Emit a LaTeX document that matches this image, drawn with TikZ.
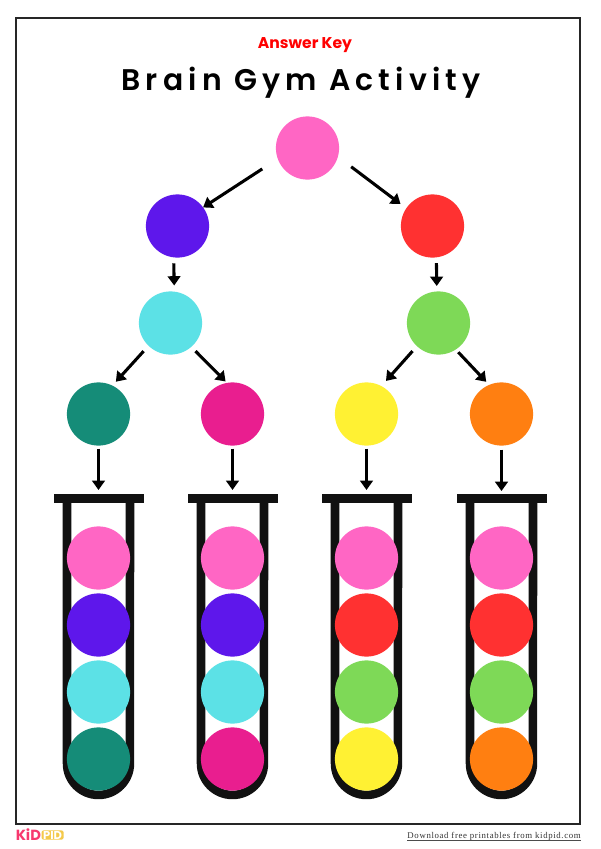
\documentclass[tikz,border=0pt]{standalone}
\usepackage{fontspec}
\usetikzlibrary{arrows.meta}
\setmainfont{Poppins}
\newfontfamily\titlefont[LetterSpace=17.4]{Poppins SemiBold}
\newfontfamily\footfont[LetterSpace=7.3]{Liberation Serif}
\definecolor{ballpink}{HTML}{FF66C4}
\definecolor{ballpurple}{HTML}{5E17EB}
\definecolor{ballred}{HTML}{FF3131}
\definecolor{ballcyan}{HTML}{5CE1E6}
\definecolor{ballgreen}{HTML}{7ED957}
\definecolor{ballteal}{HTML}{158C78}
\definecolor{ballmagenta}{HTML}{E91E8F}
\definecolor{ballyellow}{HTML}{FFF133}
\definecolor{ballorange}{HTML}{FF7F11}
\definecolor{tubeblack}{HTML}{111111}
\definecolor{logopink}{HTML}{F7386E}
\definecolor{logoyellow}{HTML}{F4C94A}
\tikzset{ball/.style={circle, inner sep=0pt, outer sep=0pt, minimum size=47.4pt}}
\tikzset{rim/.style={rectangle, fill=tubeblack, inner sep=0pt, outer sep=0pt, minimum width=67.5pt, minimum height=6.8pt}}
\tikzset{wall/.style={draw=tubeblack, line width=6.4pt}}
\tikzset{link/.style={draw=black, line width=2.3pt, -{Triangle[length=7pt,width=9.5pt]}}}

\begin{document}
\begin{tikzpicture}[x=.75pt,y=-.75pt]
  \useasboundingbox (0,0) rectangle (600,849);
  \fill[white] (0,0) rectangle (600,849);
  \draw[draw=black!85, line width=1.1pt] (16,18) rectangle (580,824);
  % titles
  \node[text=red, font=\fontsize{11.7}{14}\selectfont\bfseries] (answer) at (305,45.5) {Answer Key};
  \node[font=\titlefont\fontsize{22.4}{26}\selectfont] (title) at (301,82.5) {Brain Gym Activity};
  % tree
  \foreach \x/\y/\lab/\col in {
    307.5/148/root/ballpink,
    177.5/226/purple/ballpurple,
    432.5/226/red/ballred,
    170.5/323/cyan/ballcyan,
    438.5/323/green/ballgreen,
    98.5/414/teal/ballteal,
    232.5/414/magenta/ballmagenta,
    366.5/414/yellow/ballyellow,
    501.5/414/orange/ballorange%
  } {
    \node[ball, fill=\col] (\lab) at (\x, \y) {};
  }
  % tubes
  \foreach \x/\lab/\a/\b/\c/\d in {
    98.5/one/ballpink/ballpurple/ballcyan/ballteal,
    232.5/two/ballpink/ballpurple/ballcyan/ballmagenta,
    366.5/three/ballpink/ballred/ballgreen/ballyellow,
    501.5/four/ballpink/ballred/ballgreen/ballorange%
  } {
    \draw[wall] (\x-31.5, 498) -- (\x-31.5, 763.5) arc[start angle=180, end angle=360, radius=23.6pt] -- (\x+31.5, 498);
    \node[rim] (rim\lab) at (\x, 498.5) {};
    \node[ball, fill=\a] (\lab a) at (\x, 558) {};
    \node[ball, fill=\b] (\lab b) at (\x, 625) {};
    \node[ball, fill=\c] (\lab c) at (\x, 692) {};
    \node[ball, fill=\d] (\lab d) at (\x, 759) {};
  }
  % arrows
  \foreach \u/\v/\s/\e in {
    root.200/purple.36/13.9pt/0pt,
    root.-16/red.146/12.5pt/5.4pt,
    purple.263/cyan.83/4.5pt/4.6pt,
    red.277/green.93/4.3pt/4.1pt,
    cyan.226/teal.64/5.5pt/3.9pt,
    cyan.-49/magenta.100/4.5pt/1.5pt,
    green.227/yellow.62/5pt/5.2pt,
    green.-57/orange.113/2.8pt/3.2pt,
    teal.south/rimone.north/2.2pt/3pt,
    magenta.south/rimtwo.north/2.2pt/3pt,
    yellow.south/rimthree.north/2.2pt/3pt,
    orange.south/rimfour.north/3pt/2.2pt%
  } {
    \draw[link, shorten <=\s, shorten >=\e] (\u) -- (\v);
  }
  % footer
  \node[anchor=west, inner sep=0pt, text=logopink, font=\fontsize{11}{12}\selectfont\bfseries] (kid) at (15.5,835) {KiD};
  \node[anchor=west, rectangle, rounded corners=1.5pt, fill=logoyellow, text=white, inner xsep=1.2pt, inner ysep=.4pt, font=\fontsize{8.6}{9}\selectfont\bfseries] (pid) at (kid.east) {PID};
  \node[anchor=east, inner sep=0pt, text=black!80, font=\footfont\fontsize{6.6}{8}\selectfont] (foot) at (581,836) {Download free printables from kidpid.com};
  \draw[black!70, line width=.4pt] (foot.south west) -- (foot.south east);
\end{tikzpicture}
\end{document}
